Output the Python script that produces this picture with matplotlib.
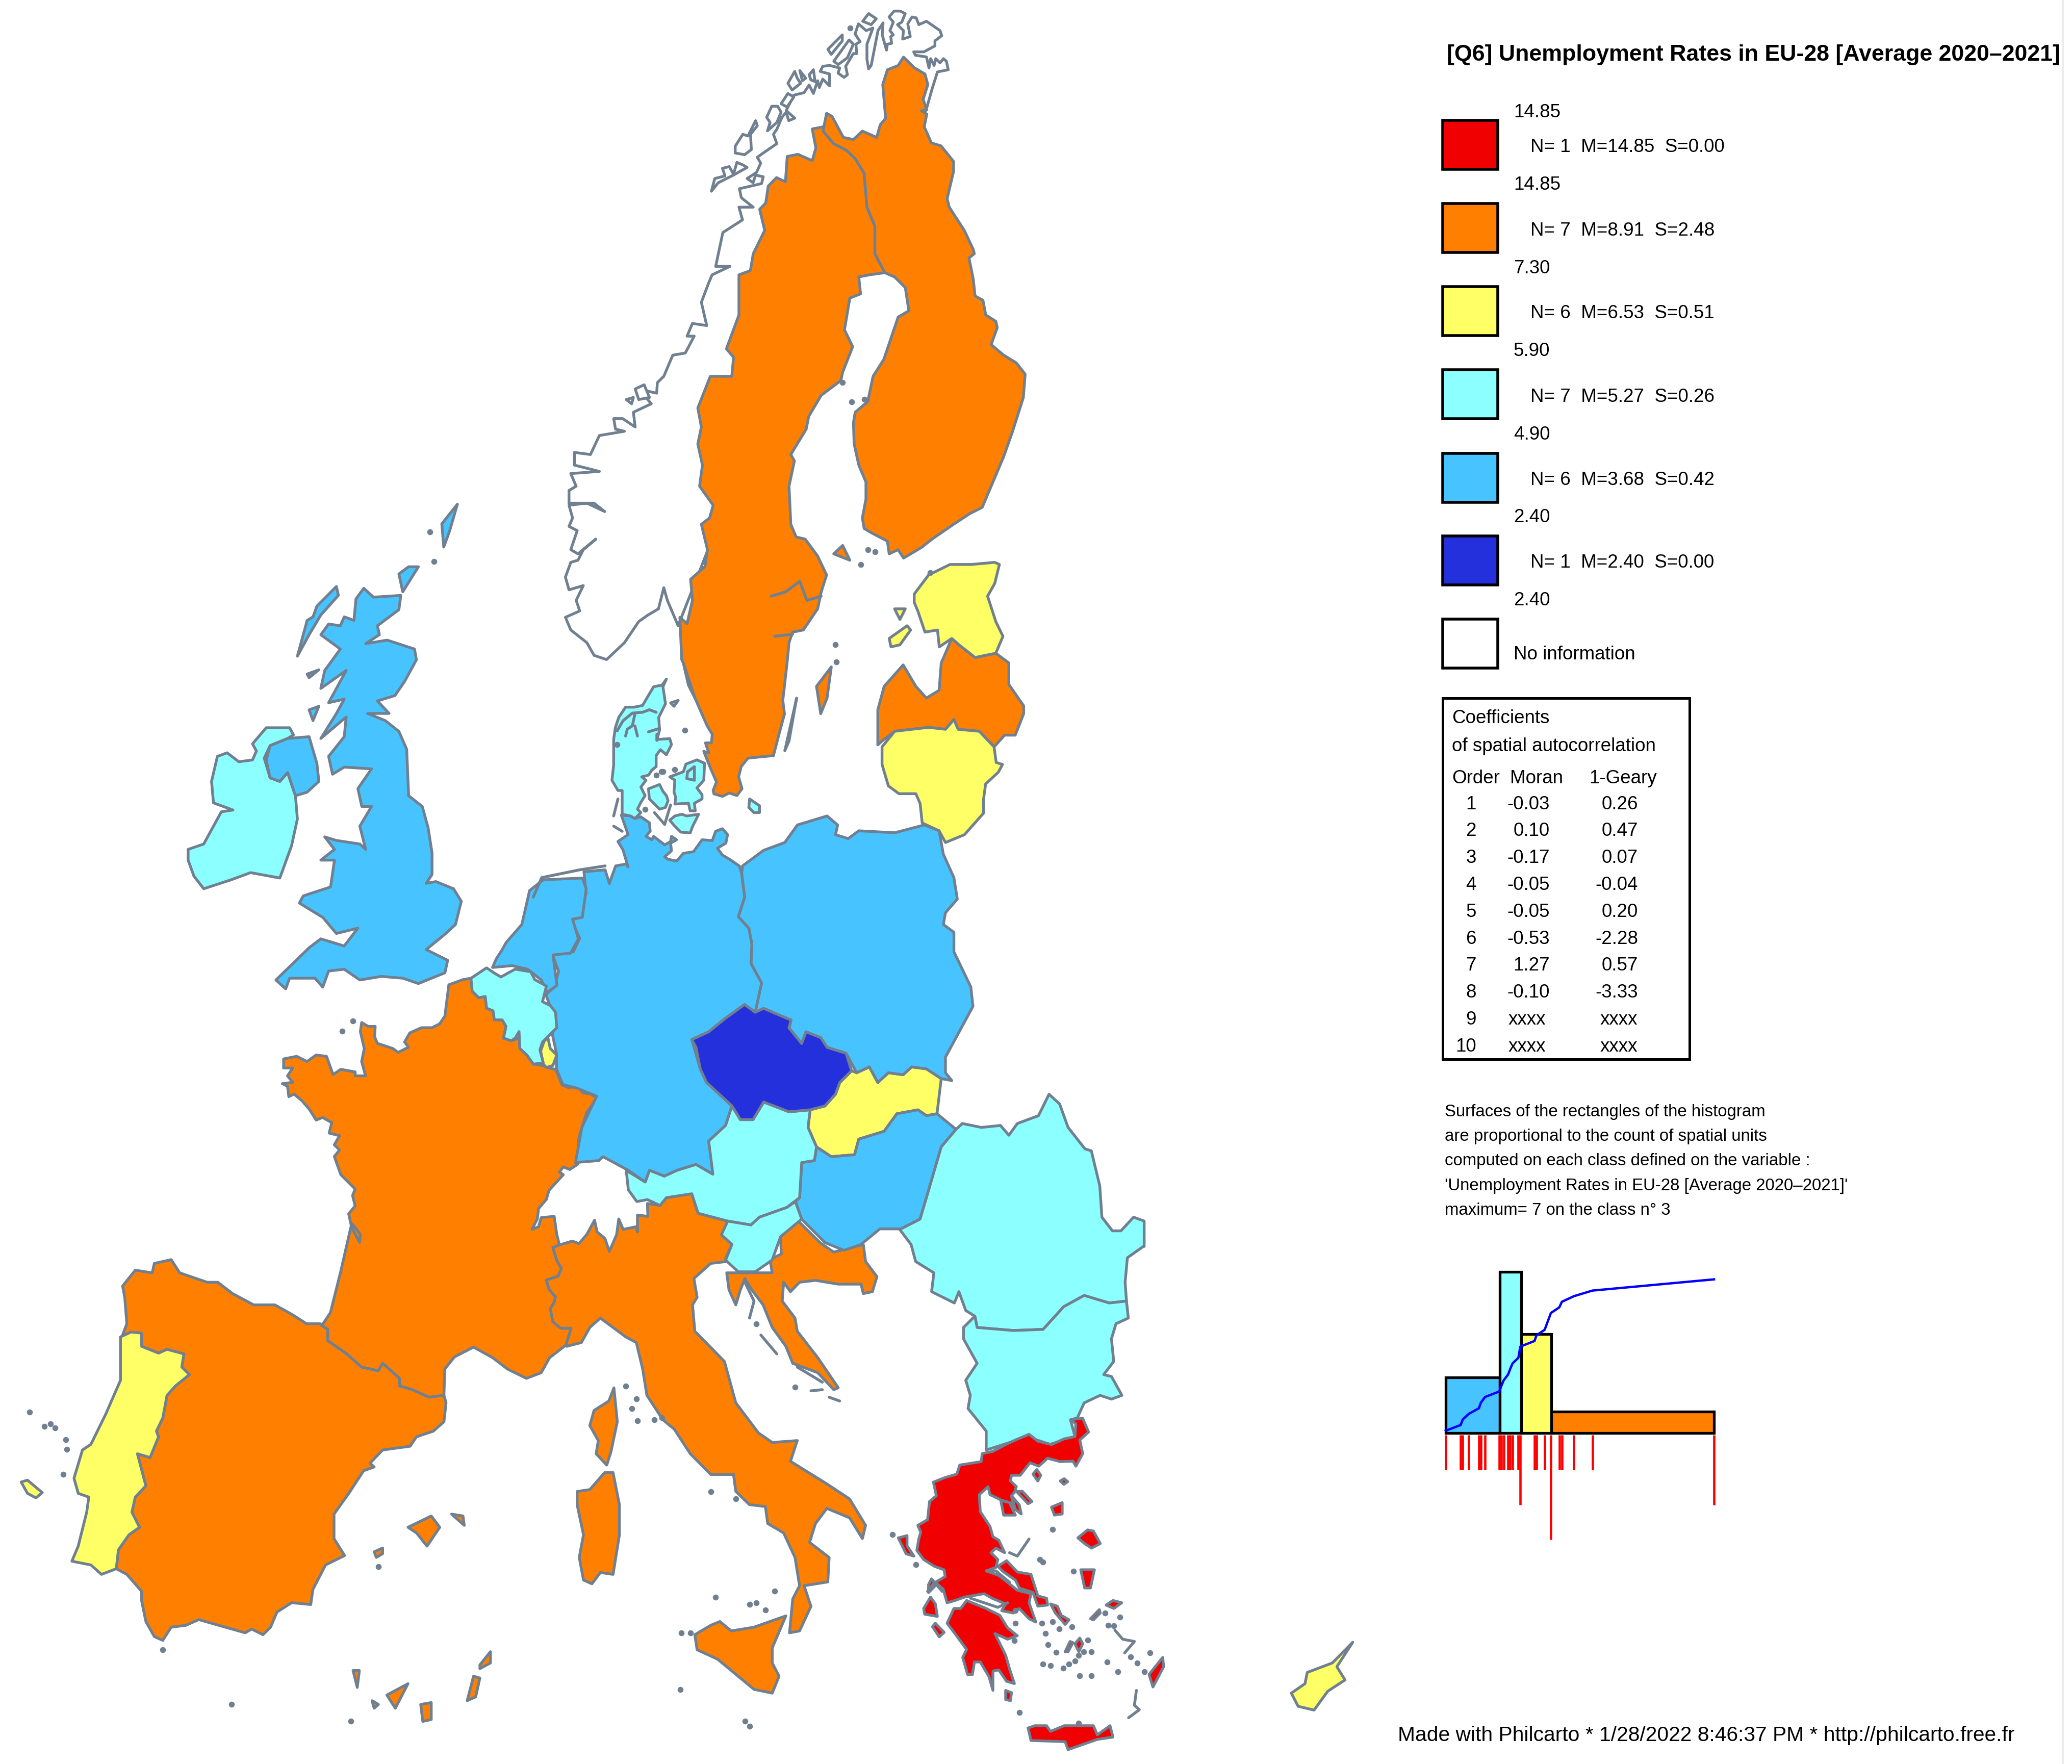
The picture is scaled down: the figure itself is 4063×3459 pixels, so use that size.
# Unemployment rates EU-28, Philcarto style map rebuilt with plain matplotlib polygons
import matplotlib
matplotlib.use("Agg")
import matplotlib.pyplot as plt
import numpy as np

plt.rcParams['font.family'] = ['Liberation Sans', 'DejaVu Sans']

W, H = 4063, 3459

# outlines were traced on crops of the picture, crop() puts them back in picture pixels
NORTH = (1000, 0, 1100, 1300)
BRIT = (300, 950, 1200, 1100)
MID = (1000, 1300, 1300, 1200)
IBER = (0, 2300, 1300, 1159)
EAST = (1300, 2300, 1400, 1159)
FRA = (500, 1880, 800, 800)
GRK = (1750, 2750, 600, 700)
DK = (1150, 1300, 522.67, 522.67)
NOR2 = (1350, 0, 522.67, 522.67)


def crop(box, pts):
    x0, y0, w, h = box
    return [(x0 + p[0] * w / 1568, y0 + p[1] * h / 1568) for p in pts]


# colours of the classes
RED = '#F00000'
ORANGE = '#FF8000'
YELLOW = '#FFFF66'
CYAN = '#8CFFFF'
BLUE = '#47C4FF'
DARK = '#2430DC'
EDGE = '#708090'

norway = crop(NORTH, [(470,1480),(440,1420),(430,1390),(415,1440),(385,1455),(360,1470),(320,1520),(270,1560),(235,1550),(215,1520),(170,1490),(155,1460),(195,1445),(185,1420),(205,1385),(165,1395),(155,1365),(170,1330),(190,1325),(205,1300),(240,1275),(190,1310),(170,1300),(188,1255),(165,1245),(175,1225),(165,1195),(215,1190),(265,1210),(235,1190),(165,1190),(165,1160),(185,1150),(170,1120),(250,1115),(180,1100),(180,1070),(225,1075),(250,1030),(320,1020),(295,1015),(290,990),(315,990),(350,1010),(345,975),(395,955),(360,920),(410,930),(412,905),(430,890),(455,840),(490,835),(515,795),(495,795),(510,765),(550,770),(535,715),(555,670),(565,650),(615,630),(575,630),(595,550),(650,520),(640,490),(680,490),(650,470)]) \
    + crop(NOR2, [(310,1160),(300,1110),(430,1080),(440,1040),(395,1030),(380,1075),(345,1050),(400,1015),(425,960),(405,925),(440,900),(520,845),(500,790),(520,760),(550,690),(575,660),(590,710),(625,695),(575,650),(620,560),(680,545),(710,500),(735,550),(760,475),(770,515),(790,465),(830,505),(830,435),(775,420),(790,390),(830,385),(890,400),(880,430),(915,455),(935,440),(925,390),(970,315),(990,315),(985,260),(1010,245),(980,200),(1000,140),(1045,180),(1085,165),(1050,260),(1050,350),(1060,405),(1075,385),(1115,180),(1145,135),(1140,205),(1165,295),(1170,260),(1195,255),(1190,215),(1205,205),(1185,180),(1205,130),(1180,100),(1210,65),(1245,65),(1275,80),(1255,130),(1230,145),(1265,180),(1260,230),(1305,215),(1290,140),(1315,100),(1340,105),(1355,145),(1400,125),(1480,180),(1490,210),(1450,240),(1450,270),(1385,305),(1325,305),(1335,325),(1400,335),(1415,400),(1425,345),(1445,385),(1455,345),(1480,370),(1500,345)]) \
    + crop(NORTH, [(1220,145),(1225,165),(1195,170),(1180,210),(1165,255),(1100,400),(900,700),(600,1200)])
norway_isl = [crop(NOR2, p) for p in [
    [(135,1125),(155,1050),(215,1035),(200,990),(240,980),(265,1025),(285,955),(320,970),(345,985),(300,1010),(265,1030),(175,1075)],
    [(275,860),(320,790),(350,800),(395,710),(405,740),(365,790),(370,880),(330,910),(275,900)],
    [(460,690),(490,625),(525,625),(545,660),(520,720),(465,770),(480,720)],
    [(545,610),(585,550),(620,570),(580,630)],
    [(585,490),(625,420),(640,460),(660,490),(610,530)],
    [(655,415),(690,460),(670,475)],
    [(710,440),(735,410),(745,480),(720,470)],
    [(820,290),(905,205),(905,240),(840,320)],
    [(855,360),(945,235),(970,260),(935,340),(880,380)],
    [(1060,80),(1105,110),(1075,145),(1025,125)],
]] + [crop(NORTH, p) for p in [
    [(325,945),(345,940),(340,955)],
    [(350,920),(375,910),(390,940),(360,945)],
]]
sweden = crop(NORTH, [(480,1560),(475,1460),(495,1475),(510,1420),(505,1370),(545,1340),(552,1300),(535,1240),(558,1225),(568,1195),(530,1150),(538,1100),(525,1050),(535,1010),(525,965),(560,890),(620,890),(625,845),(605,825),(640,745),(640,650),(672,640),(680,600),(712,545),(698,495),(715,480),(722,440),(745,420),(770,430),(775,370),(805,365),(845,380),(855,350),(845,305),(875,300),(905,340),(940,355),(965,375),(990,410),(998,490),(1020,535),(1020,600),(1048,645),(1005,650),(975,655),(980,695),(950,705),(935,780),(958,820),(930,880),(925,900),(870,935),(835,985),(828,1015),(785,1075),(795,1090),(780,1150),(785,1240),(800,1270),(825,1275),(860,1315),(885,1360),(870,1400),(860,1440),(820,1490),(790,1495),(780,1520)]) \
    + crop(DK, [(1180,0),(1155,220),(1165,300),(1135,410),(1100,545),(950,560),(910,610),(895,670),(915,740),(885,780),(840,765),(800,785),(750,770),(745,750),(765,700),(730,620),(690,520),(720,530),(700,470),(735,470),(740,420),(710,370),(640,210),(570,0)])
finland = crop(NORTH, [(1100,135),(1130,160),(1160,175),(1168,200),(1155,235),(1165,260),(1150,262),(1165,270),(1158,300),(1178,338),(1205,345),(1240,382),(1240,405),(1222,470),(1228,490),(1270,545),(1295,590),(1298,600),(1283,610),(1295,660),(1300,700),(1322,710),(1330,745),(1358,760),(1362,775),(1345,815),(1380,840),(1415,858),(1440,885),(1435,940),(1405,1020),(1380,1080),(1355,1130),(1320,1200),(1285,1215),(1240,1240),(1180,1275),(1150,1295),(1100,1320),(1085,1300),(1060,1310),(1055,1280),(1010,1260),(990,1250),(985,1225),(995,1180),(995,1140),(975,1100),(962,1050),(960,1000),(965,975),(1000,950),(1015,890),(1045,850),(1065,800),(1085,750),(1115,735),(1105,680),(1075,655),(1048,645),(1020,600),(1020,535),(998,490),(990,410),(965,375),(940,355),(905,340),(875,310),(885,268),(900,275),(932,325),(960,330),(985,310),(1025,325),(1035,295),(1050,280),(1042,200),(1055,165),(1085,155)])
estonia = crop(NORTH, [(1130,1405),(1170,1360),(1230,1335),(1290,1335),(1355,1330),(1368,1335),(1355,1380),(1335,1410),(1358,1470),(1378,1505),(1358,1545),(1300,1555),(1255,1525),(1235,1510),(1200,1530),(1195,1490),(1160,1495),(1140,1445),(1130,1425)])
latvia = crop(MID, [(870,210),(870,120),(885,60),(930,5),(960,60),(985,90),(1015,70),(1020,0)]) \
    + crop(NORTH, [(1235,1510),(1255,1525),(1300,1555),(1358,1545)]) \
    + crop(MID, [(1180,0),(1180,55),(1215,110),(1215,130),(1195,185),(1170,185),(1145,215),(1110,175),(1060,170),(1050,145),(1030,170),(990,165),(910,175),(880,200)])
lithuania = crop(MID, [(880,215),(910,175),(990,165),(1030,170),(1050,145),(1060,170),(1110,175),(1145,215),(1150,255),(1165,260),(1155,280),(1125,310),(1120,350),(1120,385),(1075,440),(1030,460),(1015,430),(975,410),(970,360),(960,335),(920,335),(895,315),(880,260)])
poland = crop(MID, [(550,520),(600,480),(650,460),(680,415),(750,392),(775,415),(770,440),(800,450),(825,430),(910,435),(980,415),(1015,430),(1025,490),(1050,550),(1058,605),(1030,640),(1025,670),(1050,690),(1050,740),(1090,830),(1095,880),(1060,950),(1030,1010),(1030,1050),(1045,1070),(1020,1065),(985,1040),(950,1035),(930,1055),(895,1050),(870,1075),(850,1035),(820,1050),(795,1000),(750,985),(735,960),(700,945),(690,975),(660,935),(665,915),(600,885),(580,895),(595,820),(570,770),(572,720),(565,680),(540,650),(555,600),(548,540)])
germany = crop(DK, [(205,895),(260,900),(285,915),(320,905),(370,940),(375,990),(350,1020),(385,1040),(395,1020),(460,1070),(495,1050),(500,1020),(530,1040),(495,1060),(500,1105),(460,1140),(480,1155),(530,1165),(570,1120),(630,1110),(680,1040),(740,1045),(760,990),(800,975),(830,1010),(820,1060),(770,1090),(800,1130),(850,1160),(900,1195)]) \
    + crop(MID, [(548,540),(555,600),(540,650),(565,680),(572,720),(570,770),(595,820),(580,895),(555,875),(510,910),(470,945),(430,965),(450,1040),(465,1075),(525,1135),(510,1185),(470,1225),(480,1285),(480,1310),(440,1285),(395,1300),(365,1315),(330,1300),(320,1330),(280,1300),(220,1265),(210,1275),(155,1280),(170,1190),(205,1110),(160,1090),(125,1080),(110,1040),(110,1000),(100,950),(110,925),(95,880),(85,850),(105,830),(115,790),(100,745),(150,740),(165,705),(145,660),(165,650),(180,590),(175,535),(225,530),(235,565),(250,520),(275,515)]) \
    + crop(DK, [(245,1200),(215,1100),(185,1050),(245,1010)])
netherlands = crop(BRIT, [(905,1280),(945,1230),(965,1135),(1000,1105),(1100,1100),(1110,1130),(1100,1210),(1075,1215),(1090,1270),(1070,1310),(1025,1315),(1035,1400),(1010,1420),(995,1385),(960,1355),(920,1345),(870,1350),(880,1325),(895,1300)])
belgium = crop(FRA, [(830,75),(890,35),(920,55),(945,70),(1000,40),(1060,50),(1075,80),(1120,105),(1105,165),(1135,180),(1155,205),(1160,265),(1135,290),(1105,320),(1095,350),(1108,400),(1070,405),(1045,370),(1018,345),(1015,280),(1000,305),(985,315),(955,305),(965,260),(950,235),(920,235),(915,200),(890,190),(885,145),(860,150),(835,125)])
luxembourg = crop(FRA, [(1125,300),(1135,345),(1160,370),(1145,410),(1120,418),(1108,405),(1098,355),(1110,320)])
france = crop(FRA, [(830,75),(835,125),(860,150),(885,145),(890,190),(915,200),(920,235),(950,235),(965,260),(955,305),(985,315),(1015,305),(1018,345),(1045,370),(1070,405),(1105,410),(1130,420),(1155,425),(1180,485),(1205,495),(1240,490),(1260,515),(1290,520),(1315,535),(1275,590),(1250,670),(1243,700),(1240,790),(1210,810),(1185,800),(1170,820),(1185,830),(1130,890),(1120,925),(1090,960),(1085,1000),(1065,1040),(1090,1030),(1100,995),(1150,990),(1160,1060),(1170,1100),(1145,1110),(1160,1160),(1178,1190),(1165,1220),(1120,1235),(1130,1270),(1155,1300),(1150,1320),(1135,1345),(1145,1395),(1175,1420),(1215,1420),(1195,1485)]) \
    + crop(IBER, [(1300,490),(1280,530),(1245,545),(1200,520),(1165,490),(1120,462),(1075,488),(1052,520),(1050,590),(1015,595),(975,575),(945,565),(945,545),(905,505),(895,525),(855,515),(820,480),(775,445),(775,415),(755,400)]) \
    + crop(FRA, [(260,1405),(290,1360),(330,1200),(370,1025),(360,980),(385,950),(375,910),(385,885),(330,830),(305,760),(325,735),(305,715),(325,680),(285,670),(295,630),(260,610),(235,620),(210,580),(180,545),(150,520),(130,530),(125,490),(105,480),(145,475),(125,450),(145,420),(110,420),(110,385),(160,375),(200,395),(235,370),(275,375),(300,445),(330,425),(385,435),(385,450),(425,450),(410,395),(420,345),(405,280),(410,245),(435,260),(462,260),(460,300),(470,325),(530,345),(550,360),(590,340),(575,320),(595,285),(640,265),(680,265),(710,250),(730,220),(745,100),(800,80)])
italy = crop(FRA, [(1145,1110),(1170,1100),(1220,1085),(1245,1095),(1275,1060),(1305,1005),(1315,1050),(1345,1075),(1362,1125),(1390,1060),(1398,1000),(1415,1040),(1465,1030),(1470,1050),(1470,985),(1510,990)]) \
    + crop(MID, [(325,1385),(355,1390),(370,1370),(430,1360),(445,1410),(515,1430),(505,1470),(525,1490),(510,1525)]) \
    + crop(EAST, [(140,235),(105,240),(68,280),(75,330),(65,350),(70,420),(135,500),(160,610),(210,690),(240,715),(295,710),(280,765),(360,825),(410,865),(445,935),(438,970),(410,915),(360,890),(335,930),(322,980),(365,1020),(362,1085),(310,1095),(325,1150),(300,1215),(278,1220),(285,1130),(300,1095),(290,1020),(265,955),(230,930),(225,885),(190,880),(160,845),(155,800),(105,800),(60,745),(25,680),(0,655)]) \
    + crop(IBER, [(1530,590),(1520,520),(1505,450),(1480,435),(1420,385),(1395,410),(1375,450),(1340,460)]) \
    + crop(FRA, [(1195,1485),(1215,1420),(1175,1420),(1145,1395),(1135,1345),(1150,1320),(1155,1300),(1130,1270),(1120,1235),(1165,1220),(1178,1190),(1160,1160)])
italy_isl = [crop(EAST, [(70,1225),(105,1200),(125,1190),(150,1215),(200,1205),(270,1175),(240,1260),(240,1300),(255,1335),(240,1380),(200,1370),(160,1330),(120,1290),(75,1265)]),
             crop(IBER, [(1365,845),(1395,840),(1430,795),(1450,795),(1465,880),(1465,960),(1450,1065),(1420,1060),(1400,1090),(1380,1080),(1370,1020),(1380,960),(1365,880)])]
corsica = crop(IBER, [(1405,630),(1440,605),(1452,570),(1460,660),(1445,740),(1435,775),(1410,745),(1415,710),(1395,670)])
spain = crop(IBER, [(290,300),(320,258),(360,265),(365,240),(405,230),(425,265),(490,290),(515,290),(550,320),(600,350),(650,350),(690,375),(725,400),(755,400),(775,415),(775,445),(820,480),(855,515),(895,525),(905,505),(945,545),(945,565),(975,575),(1015,595),(1050,590),(1055,610),(1050,660),(1025,685),(985,700),(970,725),(905,735),(875,770),(885,780),(860,790),(825,850),(790,905),(790,970),(815,1015),(770,1040),(740,1105),(735,1145),(690,1140),(655,1165),(640,1205),(622,1225),(595,1210),(580,1220),(470,1185),(440,1200),(405,1205),(385,1240),(365,1230),(345,1190),(335,1135),(335,1110),(300,1065),(275,1050),(280,1000),(305,960),(330,940),(312,900),(320,860),(345,830),(325,745),(355,755),(375,700),(370,685),(385,650),(395,590),(415,565),(448,535),(430,515),(435,480),(395,468),(375,478),(335,460),(330,425),(290,430),(300,400),(295,330)])
spain_isl = [crop(IBER, p) for p in [
    [(965,940),(1020,910),(1040,940),(1010,990),(985,955)],
    [(1068,905),(1095,910),(1098,935)],
    [(885,1005),(905,995),(905,1010),(890,1020)],
    [(1135,1305),(1160,1270),(1160,1300),(1135,1315)],
    [(1120,1335),(1135,1340),(1125,1390),(1105,1400)],
    [(835,1320),(850,1320),(845,1365)],
    [(915,1385),(965,1355),(935,1420)],
    [(880,1400),(895,1410),(885,1420)],
    [(995,1410),(1020,1405),(1020,1450),(1000,1455)],
]]
portugal = crop(IBER, [(285,435),(310,422),(335,425),(335,460),(375,478),(395,468),(435,480),(430,515),(448,535),(415,565),(395,590),(385,650),(370,685),(375,700),(355,755),(325,745),(345,830),(320,860),(312,900),(330,940),(305,960),(280,1000),(275,1050),(240,1065),(215,1040),(170,1030),(185,990),(205,900),(210,860),(185,850),(175,810),(195,735),(215,720),(250,640),(285,550)])
madeira = crop(IBER, [(50,820),(65,815),(100,848),(85,862),(65,850)])
uk = crop(BRIT, [(540,290),(565,315),(635,310),(630,350),(575,395),(580,420),(545,445),(600,435),(670,460),(675,490),(645,550),(620,590),(575,605),(605,640),(550,640),(595,660),(630,690),(650,740),(655,870),(690,900),(705,960),(715,1030),(715,1090),(700,1115),(725,1110),(770,1130),(790,1165),(775,1230),(745,1260),(700,1300),(755,1330),(748,1365),(680,1395),(640,1380),(585,1375),(530,1385),(490,1355),(450,1360),(435,1405),(415,1380),(350,1380),(340,1410),(315,1385),(400,1295),(430,1270),(490,1290),(525,1240),(470,1255),(435,1210),(375,1170),(385,1150),(455,1125),(465,1050),(430,1050),(465,1020),(440,985),(470,995),(530,1005),(545,1020),(530,955),(560,900),(535,900),(525,850),(560,795),(490,790),(460,810),(450,760),(490,705),(495,650),(430,710),(470,640),(490,600),(450,610),(495,520),(430,570),(440,520),(480,460),(430,420),(450,390),(480,395),(490,370),(515,380),(520,320)])
uk_isl = [crop(BRIT, p) for p in [
    [(370,480),(395,380),(410,370),(420,340),(470,285),(475,310),(430,365),(400,420)],
    [(630,250),(655,230),(680,230),(640,300)],
    [(740,110),(780,55),(760,130),(745,175)],
    [(400,630),(425,620),(410,660)],
    [(395,530),(425,518),(400,540)],
    [(290,770),(300,730),(345,710),(400,705),(420,780),(425,830),(395,860),(365,870),(345,805),(325,830),(300,820)],
]]
ireland = crop(BRIT, [(90,1020),(130,1005),(175,915),(205,910),(155,890),(150,830),(165,760),(190,750),(220,775),(255,770),(265,745),(255,725),(290,680),(350,680),(360,700),(345,710),(300,730),(285,765),(300,820),(325,830),(345,805),(365,870),(370,935),(355,1010),(325,1100),(250,1085),(200,1105),(130,1130),(105,1095),(90,1050)])
denmark = [crop(DK, p) for p in [
    [(470,95),(445,130),(395,140),(365,190),(330,250),(280,260),(230,260),(190,320),(170,380),(160,450),(160,600),(150,690),(185,750),(210,750),(210,890),(260,900),(285,915),(320,880),(300,860),(320,820),(345,780),(320,730),(350,690),(325,670),(365,660),(385,630),(410,610),(410,545),(435,510),(470,540),(500,480),(490,445),(415,450),(430,395),(425,320),(465,240),(450,140)],
    [(365,740),(430,715),(450,755),(470,780),(480,810),(465,850),(430,860),(395,825),(370,800)],
    [(490,670),(570,640),(585,595),(650,570),(695,590),(690,690),(650,735),(680,775),(680,800),(635,825),(640,870),(610,870),(600,825),(520,830),(525,790),(515,760),(520,690)],
    [(490,925),(520,900),(560,890),(590,900),(660,890),(625,960),(610,1000),(555,995),(515,955)],
    [(960,800),(1018,840),(1018,880),(985,880),(955,850)],
    [(495,235),(540,220),(515,255)],
]]
czechia = crop(MID, [(430,965),(470,945),(510,910),(555,875),(580,895),(600,885),(665,915),(660,935),(690,975),(700,945),(735,960),(750,985),(795,1000),(808,1045),(780,1075),(770,1105),(745,1135),(710,1145),(660,1150),(600,1125),(575,1170),(545,1170),(525,1135),(465,1075),(450,1040),(440,985)])
slovakia = crop(MID, [(808,1045),(820,1050),(850,1035),(870,1075),(895,1050),(930,1055),(950,1035),(985,1040),(1020,1065),(1010,1155),(985,1160),(965,1145),(915,1155),(885,1200),(825,1220),(815,1260),(760,1265),(725,1240),(705,1190),(710,1145),(745,1135),(770,1105),(780,1075)])
austria = crop(MID, [(275,1300),(320,1330),(330,1300),(365,1315),(395,1300),(440,1285),(480,1310),(470,1225),(510,1185),(525,1135),(545,1170),(575,1170),(600,1125),(660,1150),(710,1145),(705,1190),(725,1240),(720,1275),(690,1280),(685,1370),(655,1395),(590,1420),(570,1440),(515,1430),(445,1410),(430,1360),(370,1370),(355,1390),(325,1375),(300,1380),(280,1350)])
hungary = crop(MID, [(725,1240),(760,1265),(815,1260),(825,1220),(885,1200),(915,1155),(965,1145),(985,1160),(1010,1155),(1055,1195),(1020,1240),(985,1370),(970,1425),(925,1450),(875,1450),(830,1490),(790,1505),(745,1485),(690,1425),(675,1380),(685,1370),(690,1280),(720,1275)])
slovenia = crop(MID, [(515,1430),(570,1440),(590,1420),(655,1395),(675,1380),(690,1425),(640,1470),(620,1530),(580,1560),(540,1560),(510,1530),(525,1490),(500,1465)])
croatia = crop(EAST, [(140,265),(180,265),(240,265),(235,230),(260,215),(258,170),(295,125),(345,185),(375,210),(440,190),(445,235),(470,275),(460,315),(440,320),(435,295),(385,295),(335,285),(300,290),(280,315),(265,290),(262,340),(290,385),(295,420),(340,490),(385,570),(375,575),(340,530),(285,505),(270,460),(240,410),(220,350),(195,310),(180,280),(170,310),(160,350),(145,310)])
romania = crop(MID, [(1055,1195),(1070,1180),(1115,1190),(1160,1185),(1180,1210),(1200,1180),(1250,1160),(1275,1105),(1300,1130),(1320,1190),(1360,1245),(1375,1250),(1395,1340),(1400,1420),(1425,1455),(1445,1455),(1475,1420),(1500,1430),(1500,1495)]) \
    + crop(EAST, [(1055,195),(1020,225),(1015,290),(1018,340),(980,345),(925,325),(880,355),(835,415),(770,418),(690,410),(685,380),(665,365),(650,315),(640,345),(590,315),(595,265),(555,235),(545,190),(520,150)]) \
    + crop(MID, [(970,1425),(985,1370),(1020,1240)])
bulgaria = crop(EAST, [(690,410),(770,418),(835,415),(880,355),(925,325),(980,345),(1018,340),(1022,385),(995,400),(985,440),(990,500),(968,535),(985,540),(1008,590),(985,600),(960,590),(925,610),(910,650),(895,655),(905,700),(850,720),(800,700),(775,710),(710,735),(710,685),(670,625),(675,590),(665,550),(690,505),(660,440),(660,410),(685,380)])
greece = crop(GRK, [(460,225),(515,215),(580,185),(630,165),(700,140),(745,170),(815,185),(880,160),(935,150),(940,95),(915,75),(975,70),(1005,130),(960,165),(975,225),(940,280),(925,258),(860,260),(795,245),(750,280),(705,265),(655,320),(610,320),(605,345),(635,370),(625,395),(610,410),(620,450),(600,440),(560,430),(500,405),(490,370),(445,405),(450,480),(500,545),(515,590),(545,605),(575,660),(530,640),(505,660),(540,690),(530,725),(480,740),(545,760),(590,790),(640,825),(710,840),(700,880),(735,965),(700,950),(650,905),(620,925),(560,915),(580,885),(510,860),(470,840),(370,855),(320,870),(280,880),(260,820),(220,790),(270,765),(265,735),(215,720),(160,690),(125,650),(135,600),(145,570),(130,540),(180,515),(190,435),(225,410),(210,350),(270,330),(330,315),(345,275),(455,260)])
greece_isl = [crop(GRK, p) for p in [
    [(315,905),(350,905),(380,870),(480,905),(550,935),(590,990),(640,1025),(590,1040),(525,1015),(580,1110),(600,1170),(625,1235),(585,1225),(545,1175),(515,1180),(515,1265),(495,1205),(450,1140),(420,1140),(410,1195),(385,1195),(360,1120),(380,1085),(320,1015),(280,970)],
    [(540,720),(585,695),(640,745),(710,755),(745,850),(790,860),(795,890),(745,895),(720,835),(650,815),(630,780),(570,745)],
    [(695,1430),(730,1420),(790,1420),(810,1445),(880,1420),(1030,1420),(1050,1460),(1115,1420),(1130,1470),(1050,1480),(900,1525),(885,1490),(710,1485)],
    [(555,430),(600,440),(630,495),(570,495)],
    [(610,410),(650,450),(660,490),(630,470)],
    [(635,390),(665,390),(715,435),(695,445)],
    [(720,315),(740,295),(760,320),(745,345)],
    [(860,345),(880,335),(898,348),(878,360)],
    [(815,460),(870,440),(870,490),(830,495)],
    [(950,595),(1000,560),(1030,565),(1065,620),(1020,640),(985,620)],
    [(965,735),(1035,735),(1015,815),(985,815)],
    [(30,595),(75,585),(75,630),(110,675),(70,665)],
    [(185,800),(200,775),(225,800),(185,835)],
    [(160,905),(195,855),(220,885),(230,940),(165,930)],
    [(205,985),(220,970),(265,1010),(240,1030)],
    [(580,1265),(610,1275),(605,1310),(580,1305)],
    [(1385,1120),(1390,1160),(1335,1250),(1315,1195)],
    [(810,885),(845,895),(865,935),(905,955),(885,975),(835,925)],
    [(935,1060),(960,1035),(975,1060),(955,1095)],
    [(885,1095),(910,1050),(925,1055),(900,1095)],
    [(1095,890),(1130,870),(1175,880),(1135,905)],
    [(1015,950),(1060,910),(1065,925),(1030,955)],
]]
cyprus = crop(EAST, [(1380,1380),(1410,1355),(1415,1325),(1470,1300),(1515,1245),(1480,1310),(1498,1345),(1460,1375),(1430,1425),(1395,1415)])
sweden_isl = [crop(MID, [(725,60),(760,10),(750,90),(735,130)]), crop(MID, [(660,200),(678,90),(650,225)])]
aland = crop(NORTH, [(905,1310),(930,1290),(950,1325)])

# fjords, lakes, sand bars: only the outline colour
shore_lines = [
    crop(MID, [(55,600),(75,550),(165,530),(225,520)]),
    crop(NORTH, [(730,1410),(770,1400),(810,1375),(830,1420),(870,1410)]),
    crop(NORTH, [(740,1505),(790,1500)]),
    crop(DK, [(180,400),(215,340),(270,295),(330,290),(370,275),(410,290)]),
    crop(DK, [(230,430),(240,390),(270,370),(285,300)]),
    crop(DK, [(300,430),(285,370)]),
    crop(DK, [(365,405),(430,385)]),
    crop(DK, [(415,455),(415,420)]),
    crop(DK, [(595,640),(635,610),(635,690),(590,680),(595,640)]),
    crop(DK, [(570,0),(600,130),(640,210)]),
    crop(DK, [(400,880),(460,950),(495,835)]),
    crop(DK, [(160,900),(185,800)]),
    crop(DK, [(160,960),(210,990)]),
    crop(FRA, [(375,1020),(405,1060),(402,1090),(370,1030)]),
    crop(GRK, [(600,660),(640,675),(700,600)]),
    crop(GRK, [(1140,1000),(1180,1040),(1240,1050),(1190,1100)]),
    crop(GRK, [(1250,1265),(1240,1330),(1265,1350),(1210,1385)]),
    crop(GRK, [(480,740),(530,740),(600,790)]),
    crop(GRK, [(400,860),(540,900),(590,880)]),
    crop(GRK, [(180,830),(215,790),(255,830)]),
    crop(EAST, [(180,290),(200,340),(190,385)]),
    crop(EAST, [(215,430),(250,480)]),
    crop(EAST, [(295,515),(350,555)]),
    crop(EAST, [(325,578),(350,575)]),
    crop(EAST, [(365,595),(388,605)]),
]

# tiny islands, drawn as outline blobs only
dots_iber = [(70,635),(105,672),(120,665),(130,676),(155,708),(150,800),(158,733),(385,1265),(548,1410),(830,1455),(895,1045),(1480,565),(1505,600),(1495,625),(1508,658),(1548,655),(1565,650)]
dots_east = [(105,845),(160,865),(190,1145),(205,1140),(225,1160),(245,1110),(115,1125),(40,1220),(60,1220),(38,1370),(180,1455),(190,1468),(290,568),(205,400)]
dots_north = [(1000,1300),(1020,1305),(980,1335),(910,1525),(930,905),(955,950),(990,945),(1175,1355),(912,1565)]
dots_brit = [(720,215),(710,132),(485,1528),(512,1500)]
dots_grk = [(820,557),(770,700),(755,690),(928,742),(120,712),(0,580),(650,1362),(955,1408),(1320,1100),(1220,1118),(1255,1145),(1292,1183),(1155,1183),(1165,942),(1105,978),(1135,980),(1090,925),(820,963),(765,970),(855,995),(920,985),(785,1015),(798,1065),(838,1098),(1000,1043),(980,1095),(955,1110),(1020,1095),(1100,1140),(772,1148),(810,1155),(875,1167),(935,1135),(905,1150),(958,1200),(1018,1200),(630,915),(630,970),(625,1045)]
dots_dk = [(578,395),(440,640),(412,660),(520,628),(345,860),(180,480),(450,640)]
dots_nor = [(950,165)]

# legend and table texts
class_labels = ['14.85', '14.85', '7.30', '5.90', '4.90', '2.40', '2.40']
class_stats = ['N= 1  M=14.85  S=0.00', 'N= 7  M=8.91  S=2.48', 'N= 6  M=6.53  S=0.51',
               'N= 7  M=5.27  S=0.26', 'N= 6  M=3.68  S=0.42', 'N= 1  M=2.40  S=0.00']
class_colours = [RED, ORANGE, YELLOW, CYAN, BLUE, DARK, 'white']
orders = ['1', '2', '3', '4', '5', '6', '7', '8', '9', '10']
moran = ['-0.03', '0.10', '-0.17', '-0.05', '-0.05', '-0.53', '1.27', '-0.10', 'xxxx', 'xxxx']
geary = ['0.26', '0.47', '0.07', '-0.04', '0.20', '-2.28', '0.57', '-3.33', 'xxxx', 'xxxx']
note_lines = ['Surfaces of the rectangles of the histogram',
              'are proportional to the count of spatial units',
              'computed on each class defined on the variable :',
              "'Unemployment Rates in EU-28 [Average 2020\u20132021]'",
              'maximum= 7 on the class n\u00b0 3']

# histogram
hist_breaks = [2.40, 4.90, 5.90, 7.30, 14.85]
hist_counts = [6, 7, 6, 7]
hist_colours = [BLUE, CYAN, YELLOW, ORANGE]
rug_values = [2.40, 3.09, 3.19, 3.47, 3.94, 4.03, 4.22, 4.89, 4.98, 5.09, 5.29, 5.39, 5.50, 5.77, 5.86,
              6.52, 6.61, 6.99, 7.28, 7.67, 7.79, 8.35, 9.21, 14.85]
rug_counts = [1, 1, 1, 1, 1, 1, 1, 1, 1, 1, 1, 1, 1, 1, 2, 1, 1, 1, 3, 1, 1, 1, 1, 2]

fig = plt.figure(figsize=(W / 100, H / 100), dpi=100)
ax = fig.add_axes([0, 0, 1, 1])
ax.set_xlim(0, W)
ax.set_ylim(H, 0)
ax.axis('off')


def land(poly, colour, z=2):
    xs = [p[0] for p in poly]
    ys = [p[1] for p in poly]
    ax.fill(xs, ys, facecolor=colour, edgecolor=EDGE, linewidth=3.9, joinstyle='round', zorder=z)


land(norway, 'white', 1)
for isl in norway_isl:
    land(isl, 'white', 1)

for c, col in [(sweden, ORANGE), (finland, ORANGE), (aland, ORANGE), (latvia, ORANGE), (france, ORANGE),
               (italy, ORANGE), (corsica, ORANGE), (spain, ORANGE), (croatia, ORANGE),
               (estonia, YELLOW), (lithuania, YELLOW), (luxembourg, YELLOW), (portugal, YELLOW),
               (madeira, YELLOW), (slovakia, YELLOW), (cyprus, YELLOW),
               (poland, BLUE), (germany, BLUE), (netherlands, BLUE), (uk, BLUE), (hungary, BLUE),
               (belgium, CYAN), (ireland, CYAN), (austria, CYAN), (slovenia, CYAN), (romania, CYAN),
               (bulgaria, CYAN), (czechia, DARK), (greece, RED)]:
    land(c, col)
for group, col in [(sweden_isl, ORANGE), (italy_isl, ORANGE), (spain_isl, ORANGE), (uk_isl, BLUE),
                   (denmark, CYAN), (greece_isl, RED)]:
    for isl in group:
        land(isl, col)
for isl in [crop(NORTH, [(1060,1510),(1110,1480),(1120,1490),(1090,1525),(1065,1530)]),
            crop(NORTH, [(1075,1440),(1105,1440),(1090,1465)])]:
    land(isl, YELLOW)

for ln in shore_lines:
    ax.plot([p[0] for p in ln], [p[1] for p in ln], color=EDGE, lw=4, solid_capstyle='round', zorder=3)
for box, pts in [(IBER, dots_iber), (EAST, dots_east), (NORTH, dots_north), (BRIT, dots_brit),
                 (GRK, dots_grk), (DK, dots_dk), (NOR2, dots_nor)]:
    d = crop(box, pts)
    ax.scatter([p[0] for p in d], [p[1] for p in d], s=70, color=EDGE, linewidths=0, zorder=3)

# title and legend
ax.text(2837, 108, '[Q6] Unemployment Rates in EU-28 [Average 2020\u20132021]', fontsize=32.2, fontweight='bold', va='center')
box_tops = [236, 399, 562, 725, 889, 1051, 1214]
label_y = [221, 363, 526, 689, 852, 1014, 1177]
stat_y = [289, 452, 615, 778, 941, 1103]
for top, col in zip(box_tops, class_colours):
    ax.add_patch(plt.Rectangle((2829, top), 108, 96, facecolor=col, edgecolor='black', linewidth=4, zorder=4))
for y, lab in zip(label_y, class_labels):
    ax.text(2968, y, lab, fontsize=26.5, va='center')
for y, st in zip(stat_y, class_stats):
    ax.text(3001, y, st, fontsize=26.5, va='center')
ax.text(2968, 1283, 'No information', fontsize=26.5, va='center')

# spatial autocorrelation table
ax.add_patch(plt.Rectangle((2829, 1369), 484, 708, facecolor='white', edgecolor='black', linewidth=3.6, zorder=4))
tsize = 26.5
ax.text(2847, 1408, 'Coefficients', fontsize=tsize, va='center', zorder=5)
ax.text(2847, 1463, 'of spatial autocorrelation', fontsize=tsize, va='center', zorder=5)
ax.text(2847, 1526, 'Order', fontsize=tsize, va='center', zorder=5)
ax.text(2961, 1526, 'Moran', fontsize=tsize, va='center', zorder=5)
ax.text(3116, 1526, '1-Geary', fontsize=tsize, va='center', zorder=5)
for i in range(len(orders)):
    y = 1577 + i * 52.8
    ax.text(2895, y, orders[i], fontsize=tsize, va='center', ha='right', zorder=5)
    if moran[i] == 'xxxx':
        ax.text(2958, y, moran[i], fontsize=tsize, va='center', zorder=5)
        ax.text(3138, y, geary[i], fontsize=tsize, va='center', zorder=5)
    else:
        ax.text(3039, y, moran[i], fontsize=tsize, va='center', ha='right', zorder=5)
        ax.text(3212, y, geary[i], fontsize=tsize, va='center', ha='right', zorder=5)

for i, line in enumerate(note_lines):
    ax.text(2833, 2180 + i * 48.4, line, fontsize=23.8, va='center')

ax.text(2741, 3403, 'Made with Philcarto * 1/28/2022 8:46:37 PM * http://philcarto.free.fr', fontsize=29.3, va='center')
ax.axvline(4045, color='#ececec', lw=3)

# histogram of the classes with rug and cumulative curve below/over it
hist_left, hist_right = 2835, 3361
hist_top, hist_bottom = 2494, 3019
hax = fig.add_axes([hist_left / W, 1 - hist_bottom / H, (hist_right - hist_left) / W, (hist_bottom - hist_top) / H])
hax.set_xlim(hist_breaks[0], hist_breaks[-1])
hax.set_ylim(-4.64, 7)
hax.axis('off')
hax.patch.set_alpha(0)
widths = np.diff(hist_breaks)
density = np.array(hist_counts) / widths
hax.bar(hist_breaks[:-1], density, width=widths, align='edge', color=hist_colours, edgecolor='black',
        linewidth=3.8, clip_on=False, zorder=2)
rug_unit = 1.52
for v, n in zip(rug_values, rug_counts):
    hax.plot([v, v], [-0.09, -0.09 - n * rug_unit], color='#FF0000', lw=3.3, solid_capstyle='butt', clip_on=False, zorder=1)
cum = np.cumsum(rug_counts)
hax.plot(rug_values, (cum - 0.6) * 0.2436, color='#0000FF', lw=3.3, clip_on=False, zorder=3)

fig.savefig('out.png', dpi=100, facecolor='white')
